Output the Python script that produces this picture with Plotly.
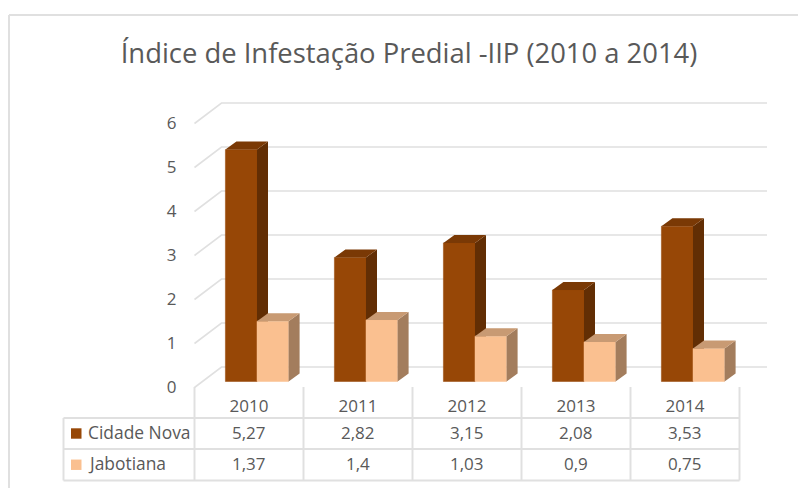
import plotly.graph_objects as go

# ---- data ----
years = ["2010", "2011", "2012", "2013", "2014"]
series_names = ["Cidade Nova", "Jabotiana"]
cidade_nova = [5.27, 2.82, 3.15, 2.08, 3.53]
jabotiana = [1.37, 1.4, 1.03, 0.9, 0.75]
y_ticks = [0, 1, 2, 3, 4, 5, 6]
title = "Índice de Infestação Predial -IIP (2010 a 2014)"

# ---- layout constants ----
W, H = 798, 488
X0, CAT = 194.5, 109.0        # pixel of category-axis start, pixels per category
Y_UNIT = 44.0                 # pixels per value unit
Y_WALL0 = 387.5               # pixel of value 0 on the front wall edge
Y_BAR0 = 381.5                # pixel of the bar base
FONT = "Open Sans, sans-serif"
TXT = "#595959"
GRID = "#e0e0e0"
COLORS = {"front": ["#974706", "#fac090"],
          "side": ["#622e04", "#a37d5d"],
          "top": ["#7a3905", "#c89a73"]}

BAR_W = 31.6 / CAT
BAR_SHIFT = 8.0 / CAT          # group centre sits right of category centre
DX, DY = 11.0 / CAT, 8.0 / Y_UNIT   # bar depth
WALL_DX, WALL_DY = 27.0 / CAT, 20.5 / Y_UNIT  # wall depth
RIGHT = (767 - X0) / CAT


def yrange(zero_px):
    return [(zero_px - H) / Y_UNIT, zero_px / Y_UNIT]


def py(px):  # pixel row -> paper fraction
    return 1 - px / H


centers = [i + 0.5 + BAR_SHIFT for i in range(len(years))]
fig = go.Figure()

# back wall / side wall grid on the main axes
gx, gy = [], []
for v in y_ticks:
    gx += [0, WALL_DX, RIGHT, None]
    gy += [v, v + WALL_DY, v + WALL_DY, None]
fig.add_trace(go.Scatter(x=gx, y=gy, mode="lines", xaxis="x", yaxis="y",
                         line=dict(color=GRID, width=1.6), hoverinfo="skip",
                         showlegend=False))

# each series gets its own overlaying axis so it stacks over the previous one
for s, (name, vals, axis) in enumerate(zip(series_names, [cidade_nova, jabotiana], ["y2", "y3"])):
    sign = -1 if s == 0 else 1
    xs = [c + sign * BAR_W / 2 for c in centers]
    fig.add_trace(go.Bar(x=xs, y=vals, width=BAR_W, name=name, xaxis="x", yaxis=axis,
                         marker=dict(color=COLORS["front"][s],
                                     line=dict(color=COLORS["front"][s], width=0.5)),
                         showlegend=False))
    sx, sy, tx, ty = [], [], [], []
    for x, v in zip(xs, vals):
        l, r = x - BAR_W / 2, x + BAR_W / 2
        sx += [r, r + DX, r + DX, r, r, None]
        sy += [0, DY, v + DY, v, 0, None]
        tx += [l, l + DX, r + DX, r, l, None]
        ty += [v, v + DY, v + DY, v, v, None]
    for px_, py_, key in [(sx, sy, "side"), (tx, ty, "top")]:
        fig.add_trace(go.Scatter(x=px_, y=py_, mode="lines", fill="toself", xaxis="x", yaxis=axis,
                                 fillcolor=COLORS[key][s], line=dict(width=0),
                                 hoverinfo="skip", showlegend=False))

# data table: grid lines
L_TAB, T_ROW, ROW1, ROW2 = 63.5, 418, 449, 480.5
shapes = []
line = dict(color=GRID, width=2)
for y_ in [T_ROW, ROW1, ROW2]:
    shapes.append(dict(type="line", xref="x", yref="paper", layer="below", line=line,
                       x0=(L_TAB - X0) / CAT, x1=len(years), y0=py(y_), y1=py(y_)))
shapes.append(dict(type="line", xref="x", yref="paper", layer="below", line=line,
                   x0=(L_TAB - X0) / CAT, x1=(L_TAB - X0) / CAT, y0=py(T_ROW), y1=py(ROW2)))
for i in range(len(years) + 1):
    shapes.append(dict(type="line", xref="x", yref="paper", layer="below", line=line,
                       x0=i, x1=i, y0=py(387), y1=py(ROW2)))
# chart frame (top and left only)
frame = dict(color=GRID, width=2)
shapes.append(dict(type="line", xref="paper", yref="paper", layer="below", line=frame,
                   x0=9 / W, x1=1, y0=py(15), y1=py(15)))
shapes.append(dict(type="line", xref="paper", yref="paper", layer="below", line=frame,
                   x0=9 / W, x1=9 / W, y0=py(15), y1=0))

annotations = []
row_mid = [(T_ROW + ROW1) / 2, (ROW1 + ROW2) / 2]
text_mid = [m - 1.5 for m in row_mid]
for s, (name, vals) in enumerate(zip(series_names, [cidade_nova, jabotiana])):
    m = row_mid[s]
    shapes.append(dict(type="rect", xref="paper", yref="paper", fillcolor=COLORS["front"][s],
                       line=dict(width=0), x0=71 / W, x1=81.5 / W, y0=py(m + 5.2), y1=py(m - 5.2)))
    annotations.append(dict(text=name, xref="paper", yref="paper", x=85.5 / W, y=py(text_mid[s]),
                            xanchor="left", yanchor="middle", showarrow=False,
                            font=dict(family=FONT, size=17.4, color=TXT)))
    for i, v in enumerate(vals):
        annotations.append(dict(text=str(v).replace(".", ","), xref="x", yref="paper", x=i + 0.5,
                                y=py(text_mid[s]), xanchor="center", yanchor="middle", showarrow=False,
                                font=dict(family=FONT, size=17, color=TXT)))

hidden_y = dict(visible=False, overlaying="y", fixedrange=True, range=yrange(Y_BAR0))
fig.update_layout(
    width=W, height=H, autosize=False,
    margin=dict(l=0, r=0, t=0, b=0),
    paper_bgcolor="white", plot_bgcolor="white",
    showlegend=False, barmode="overlay",
    title=dict(text=title, x=409 / W, xanchor="center", y=py(53), yanchor="middle",
               font=dict(family=FONT, size=27.4, color=TXT)),
    xaxis=dict(range=[-X0 / CAT, (W - X0) / CAT], domain=[0, 1], anchor="free", position=py(390),
               tickmode="array", tickvals=[i + 0.5 for i in range(len(years))], ticktext=years,
               showgrid=False, zeroline=False, showline=False, ticks="", ticklabelstandoff=4,
               tickfont=dict(family=FONT, size=17, color=TXT)),
    yaxis=dict(range=yrange(Y_WALL0), domain=[0, 1], anchor="free", position=X0 / W,
               tickmode="array", tickvals=y_ticks, ticktext=[str(t) for t in y_ticks],
               showgrid=False, zeroline=False, showline=False, ticks="", ticklabelstandoff=18,
               tickfont=dict(family=FONT, size=17, color=TXT)),
    yaxis2=hidden_y, yaxis3=hidden_y,
    shapes=shapes, annotations=annotations,
)
fig.write_html("out.html", config={"displayModeBar": False},
               post_script="document.body.style.margin='0';document.documentElement.style.overflow='hidden';")
